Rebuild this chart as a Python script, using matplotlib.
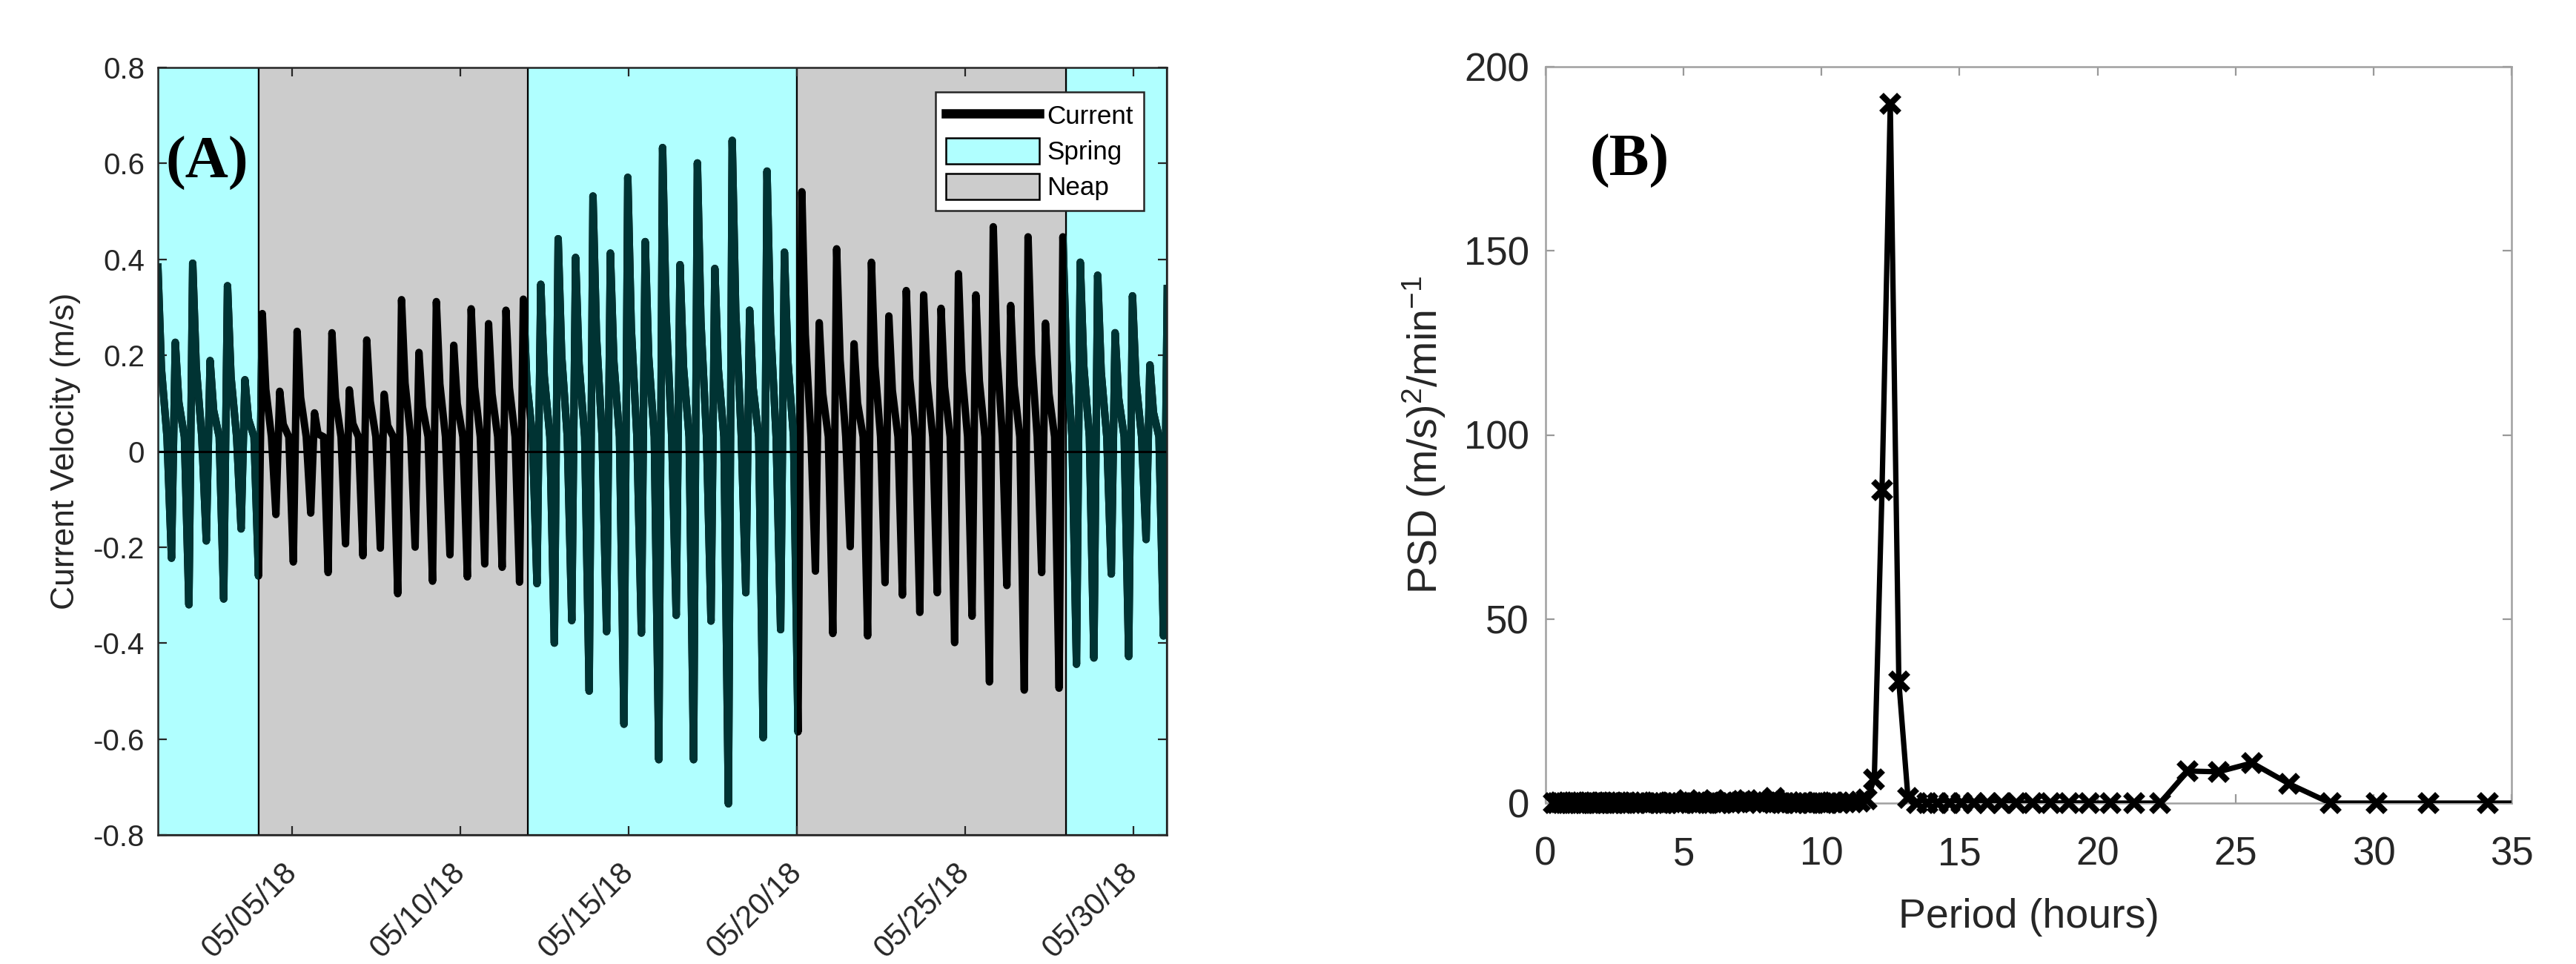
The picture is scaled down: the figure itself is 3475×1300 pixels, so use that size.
import matplotlib
matplotlib.use('Agg')
import matplotlib.pyplot as plt
import matplotlib.dates as mdates
import matplotlib.transforms as mtransforms
from matplotlib.patches import Patch
from matplotlib.lines import Line2D
from datetime import datetime, timedelta

plt.rcParams['font.family'] = ['Liberation Sans', 'DejaVu Sans']
plt.rcParams['axes.unicode_minus'] = False
plt.rcParams['mathtext.fontset'] = 'custom'
plt.rcParams['mathtext.rm'] = 'Liberation Sans'
plt.rcParams['mathtext.it'] = 'Liberation Sans:italic'

# ---------------- Panel A data ----------------
# flood (positive) peak of each semidiurnal cycle, read left to right (m/s)
flood_peaks = [0.384, 0.227, 0.392, 0.189, 0.345, 0.149, 0.287, 0.125, 0.250, 0.080,
               0.247, 0.128, 0.232, 0.119, 0.316, 0.206, 0.312, 0.221, 0.297, 0.266,
               0.294, 0.317, 0.348, 0.443, 0.404, 0.532, 0.413, 0.571, 0.437, 0.633,
               0.389, 0.601, 0.381, 0.648, 0.294, 0.584, 0.415, 0.541, 0.268, 0.422,
               0.224, 0.394, 0.282, 0.335, 0.326, 0.298, 0.370, 0.326, 0.468, 0.304,
               0.447, 0.267, 0.447, 0.394, 0.367, 0.247, 0.324, 0.180, 0.339]
# ebb (negative) trough following each peak (m/s)
ebb_troughs = [-0.223, -0.320, -0.187, -0.308, -0.162, -0.260, -0.132, -0.231, -0.129, -0.253,
               -0.193, -0.218, -0.202, -0.297, -0.200, -0.271, -0.216, -0.262, -0.235, -0.242,
               -0.273, -0.276, -0.400, -0.353, -0.500, -0.376, -0.569, -0.379, -0.643, -0.342,
               -0.643, -0.354, -0.735, -0.295, -0.597, -0.372, -0.585, -0.250, -0.380, -0.199,
               -0.385, -0.274, -0.300, -0.336, -0.295, -0.399, -0.344, -0.481, -0.280, -0.498,
               -0.253, -0.494, -0.444, -0.431, -0.256, -0.428, -0.184, -0.385]
slack_level = 0.03
record_start = datetime(2018, 5, 1)
record_end = datetime(2018, 5, 31)
tide_period_h = 12.42

spring_spans = [(datetime(2018, 5, 1), datetime(2018, 5, 4)),
                (datetime(2018, 5, 12), datetime(2018, 5, 20)),
                (datetime(2018, 5, 28), datetime(2018, 5, 31))]
neap_spans = [(datetime(2018, 5, 4), datetime(2018, 5, 12)),
              (datetime(2018, 5, 20), datetime(2018, 5, 28))]
date_ticks = [datetime(2018, 5, d) for d in (5, 10, 15, 20, 25, 30)]
vel_ticks = [-0.8, -0.6, -0.4, -0.2, 0, 0.2, 0.4, 0.6, 0.8]

# ---------------- Panel B data ----------------
psd_period = [0.3, 0.4, 0.5, 0.6, 0.7, 0.8, 0.9, 1.0, 1.1, 1.2, 1.3,
              1.4, 1.5, 1.6, 1.68, 1.77, 1.86, 1.96, 2.07, 2.2, 2.33, 2.42,
              2.51, 2.61, 2.72, 2.84, 2.96, 3.1, 3.25, 3.41, 3.6, 3.79, 4.0,
              4.13, 4.27, 4.41, 4.57, 4.74, 4.92, 5.12, 5.33, 5.44, 5.56, 5.69,
              5.82, 5.95, 6.1, 6.24, 6.4, 6.56, 6.74, 6.92, 7.11, 7.31, 7.53,
              7.76, 8.0, 8.13, 8.26, 8.39, 8.53, 8.68, 8.83, 8.98, 9.14, 9.31,
              9.48, 9.66, 9.85, 10.04, 10.24, 10.45, 10.67, 10.89, 11.13, 11.38, 11.64,
              11.91, 12.19, 12.49, 12.8, 13.13, 13.47, 13.84, 14.22, 14.63, 15.06, 15.52,
              16.0, 16.52, 17.07, 17.66, 18.29, 18.96, 19.69, 20.48, 21.33, 22.26, 23.27,
              24.38, 25.6, 26.95, 28.44, 30.12, 32.0, 34.13, 36.57]
psd_value = [0.1, 0.0, 0.2, 0.1, 0.0, 0.2, 0.1, 0.0, 0.2, 0.1, 0.0,
             0.1, 0.2, 0.0, 0.1, 0.2, 0.0, 0.1, 0.3, 0.1, 0.0, 0.2,
             0.1, 0.0, 0.2, 0.1, 0.0, 0.2, 0.1, 0.3, 0.1, 0.0, 0.2,
             0.1, 0.0, 0.1, 0.2, 0.0, 0.1, 0.8, 0.2, 0.1, 0.0, 0.2,
             0.1, 0.3, 0.9, 0.1, 0.0, 0.2, 0.1, 0.3, 0.6, 0.8, 0.2,
             0.1, 0.3, 0.4, 1.4, 0.3, 0.1, 0.0, 0.2, 0.1, 0.0, 0.3,
             0.1, 0.0, 0.2, 0.1, 0.0, 0.2, 0.1, 0.3, 0.2, 0.5, 1.0,
             6.5, 85.0, 190.0, 33.0, 1.5, 0.0, 0.1, 0.0, 0.1, 0.0, 0.1,
             0.0, 0.1, 0.0, 0.1, 0.0, 0.1, 0.0, 0.0, 0.0, 0.0, 8.7,
             8.5, 10.9, 5.2, 0.0, 0.0, 0.0, 0.0, 0.0]

# ---------------- build the current trace ----------------
times, vel = [], []
for k, peak in enumerate(flood_peaks):
    t0 = k * tide_period_h
    times.append(record_start + timedelta(hours=t0))
    vel.append(peak)
    if k < len(ebb_troughs):
        times += [record_start + timedelta(hours=t0 + 2.5),
                  record_start + timedelta(hours=t0 + 6.5),
                  record_start + timedelta(hours=t0 + 9.7)]
        vel += [0.45 * peak, slack_level, ebb_troughs[k]]

W, H = 3475, 1300
fig = plt.figure(figsize=(W / 200, H / 200), dpi=200)

# ---------------- Panel A ----------------
spring_face = '#b0ffff'
neap_face = '#cccccc'
axA = fig.add_axes([213 / W, 1 - 1126 / H, (1574 - 213) / W, (1126 - 91) / H])
axA.plot(times, vel, color='k', lw=3.6, zorder=2)
for a, b in spring_spans:
    span = axA.axvspan(a, b, facecolor=spring_face, edgecolor='k', lw=0.8, zorder=1)
    # the trace shows dark teal where it crosses the spring shading
    teal, = axA.plot(times, vel, color='#003333', lw=3.6, zorder=2.1)
    teal.set_clip_path(span)
for a, b in neap_spans:
    axA.axvspan(a, b, facecolor=neap_face, edgecolor='k', lw=0.8, zorder=1)
axA.axhline(0, color='k', lw=1.1, zorder=3)

axA.set_xlim(record_start, record_end)
axA.set_ylim(-0.8, 0.8)
axA.set_yticks(vel_ticks)
axA.set_yticklabels(['%g' % v for v in vel_ticks])
axA.set_xticks(date_ticks)
axA.xaxis.set_major_formatter(mdates.DateFormatter('%m/%d/%y'))
axA.tick_params(axis='both', direction='in', length=4.3, width=0.8, color='#262626',
                top=True, right=True, labelcolor='#262626')
axA.tick_params(axis='y', labelsize=14.5, pad=6.5)
axA.tick_params(axis='x', labelsize=15, pad=16)
for lab in axA.get_xticklabels():
    lab.set_rotation(45)
    lab.set_ha('right')
    lab.set_va('center')
    lab.set_rotation_mode('anchor')
for s in axA.spines.values():
    s.set_color('#262626')
    s.set_linewidth(0.9)
    s.set_zorder(4)
axA.set_ylabel('Current Velocity (m/s)', fontsize=16, color='#262626', labelpad=6)

trA = mtransforms.blended_transform_factory(axA.transAxes, axA.transData)
axA.text(0.008, 0.6, '(A)', transform=trA, fontsize=29, fontweight='bold',
         family='Liberation Serif', va='center', ha='left', zorder=6)

handles = [Line2D([], [], color='k', lw=4.5),
           Patch(facecolor=spring_face, edgecolor='k', lw=0.9),
           Patch(facecolor=neap_face, edgecolor='k', lw=0.9)]
leg = axA.legend(handles, ['Current', 'Spring', 'Neap'], loc='upper right',
                 bbox_to_anchor=(0.977, 0.968), borderaxespad=0, fontsize=12.6,
                 handlelength=3.6, handleheight=1.14, labelspacing=0.34,
                 handletextpad=0.3, borderpad=0.4, fancybox=False, framealpha=1)
leg.get_frame().set_edgecolor('#262626')
leg.get_frame().set_linewidth(0.9)
leg.set_zorder(10)

# ---------------- Panel B ----------------
axB = fig.add_axes([2085 / W, 1 - 1083 / H, (3388 - 2085) / W, (1083 - 90) / H])
axB.plot(psd_period, psd_value, color='k', lw=2.6, zorder=3)
mk_p = [p for p in psd_period if p <= 35]
mk_v = [v for p, v in zip(psd_period, psd_value) if p <= 35]
axB.plot(mk_p, mk_v, linestyle='none', marker='x', color='k', ms=8.5, mew=3.0,
         clip_on=False, zorder=4)
axB.set_xlim(0, 35)
axB.set_ylim(0, 200)
axB.set_xticks(range(0, 36, 5))
axB.set_yticks(range(0, 201, 50))
axB.tick_params(axis='both', direction='in', length=4.3, width=0.8, color='#999999',
                top=True, right=True, labelcolor='#262626', labelsize=19)
axB.tick_params(axis='x', pad=16)
axB.tick_params(axis='y', pad=8)
for s in axB.spines.values():
    s.set_color('#a0a0a0')
    s.set_linewidth(0.9)
axB.set_xlabel('Period (hours)', fontsize=20, color='#262626', labelpad=12)
axB.set_ylabel('PSD (m/s)$^{2}$/min$^{-1}$', fontsize=20, color='#262626', labelpad=8)
axB.text(0.046, 0.872, '(B)', transform=axB.transAxes, fontsize=29, fontweight='bold',
         family='Liberation Serif', va='center', ha='left')

fig.savefig('out.png', dpi=200)
